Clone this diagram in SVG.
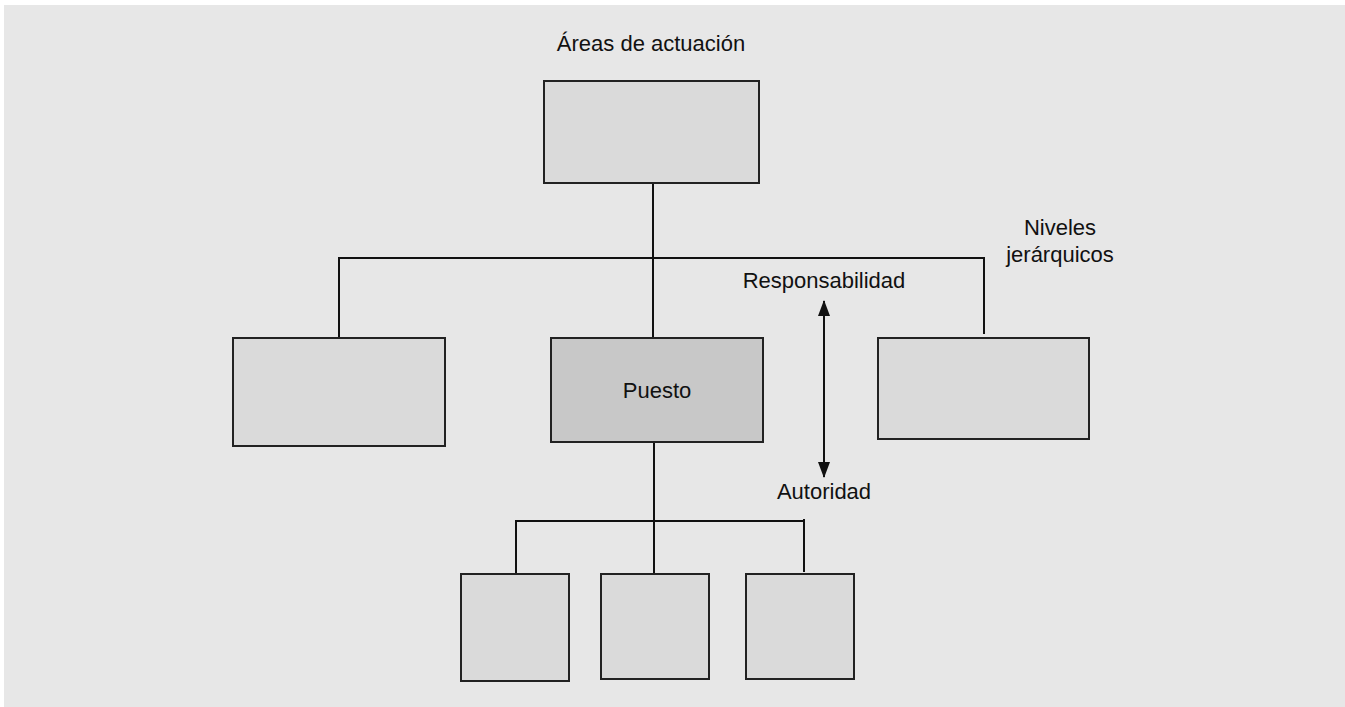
<svg xmlns="http://www.w3.org/2000/svg" width="1345" height="707" viewBox="0 0 1345 707">
<defs>
<style>
.box{fill:#dadada;stroke:#222;stroke-width:2}
.dark{fill:#c8c8c8}
.ln{fill:none;stroke:#111;stroke-width:2}
text{font-family:"Liberation Sans",Arial,sans-serif;font-size:22px;fill:#111;text-anchor:middle}
</style>
<marker id="ah" viewBox="0 0 16 12" refX="15" refY="6" markerWidth="16" markerHeight="12" markerUnits="userSpaceOnUse" orient="auto-start-reverse">
<path d="M0,0 L16,6 L0,12 Z" fill="#111"/>
</marker>
</defs>
<rect x="0" y="0" width="1345" height="707" fill="#ffffff"/>
<rect x="4" y="5" width="1341" height="702" fill="#e7e7e7"/>
<g id="connectors">
<path class="ln" d="M653,183 V338"/>
<path class="ln" d="M339,338 V258 H984 V334"/>
<path class="ln" d="M654,442 V575"/>
<path class="ln" d="M516,575 V521 H804"/>
<path class="ln" d="M804,519 V572"/>
<path class="ln" d="M824,301 V477" marker-start="url(#ah)" marker-end="url(#ah)"/>
</g>
<g id="top"><rect class="box" x="544" y="81" width="215" height="102"/></g>
<g id="left"><rect class="box" x="233" y="338" width="212" height="108"/></g>
<g id="puesto"><rect class="box dark" x="551" y="338" width="212" height="104"/><text x="657" y="398">Puesto</text></g>
<g id="right"><rect class="box" x="878" y="338" width="211" height="101"/></g>
<g id="sub1"><rect class="box" x="461" y="574" width="108" height="107"/></g>
<g id="sub2"><rect class="box" x="601" y="574" width="108" height="105"/></g>
<g id="sub3"><rect class="box" x="746" y="574" width="108" height="105"/></g>
<g id="labels">
<text x="651" y="51">Áreas de actuación</text>
<text x="1060" y="235">Niveles</text>
<text x="1060" y="262">jerárquicos</text>
<text x="824" y="288">Responsabilidad</text>
<text x="824" y="499">Autoridad</text>
</g>
</svg>
